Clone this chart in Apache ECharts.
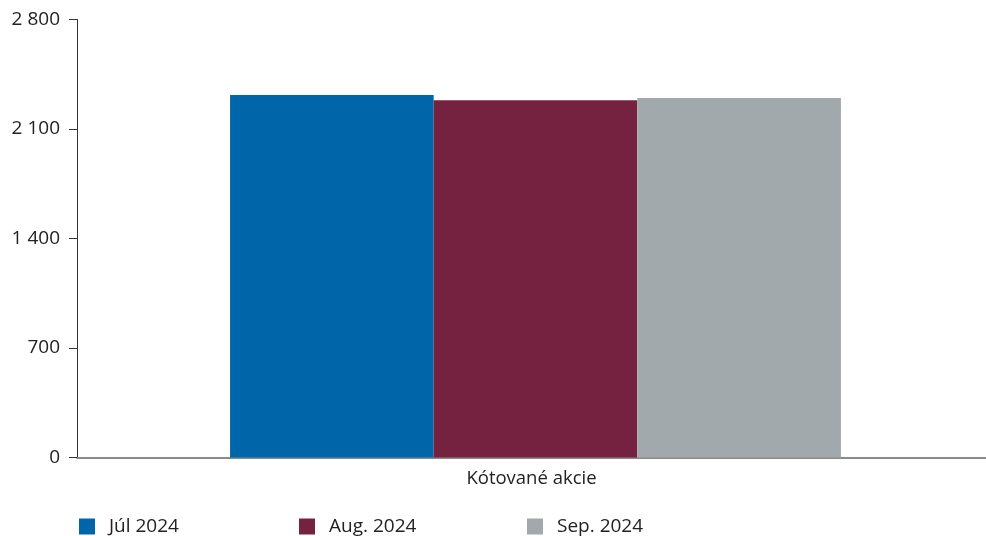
<!DOCTYPE html>
<html>
<head>
<meta charset="utf-8">
<script src="https://cdn.jsdelivr.net/npm/echarts@6/dist/echarts.min.js"></script>
<style>
  html, body { margin: 0; padding: 0; background: #fff; }
  #chart { width: 986px; height: 536px; }
</style>
</head>
<body>
<div id="chart"></div>
<script>
// data
const categories = ['Kótované akcie'];
const seriesNames = ['Júl 2024', 'Aug. 2024', 'Sep. 2024'];
const seriesValues = [[2317], [2284], [2298]];
const seriesColors = ['#0066aa', '#74223f', '#a2a9ac'];
const legendLeft = [79, 299, 527];

const chart = echarts.init(document.getElementById('chart'));
const font = '"Open Sans", sans-serif';

chart.setOption({
  animation: false,
  // grid 0 draws the visible axes, grid 1 holds the bars (slightly right of centre like the original)
  grid: [
    { left: 77, right: 0, top: 19.5, bottom: 78.5, containLabel: false },
    { left: 85, right: 0, top: 19.5, bottom: 78.5, containLabel: false }
  ],
  legend: seriesNames.map((name, i) => ({
    left: legendLeft[i],
    top: 517,
    padding: 0,
    itemWidth: 16,
    itemHeight: 16,
    icon: 'rect',
    textStyle: { fontFamily: font, fontSize: 19, color: '#222', padding: [0, 0, 0, 9] },
    data: [name]
  })),
  xAxis: [
    {
      gridIndex: 0,
      type: 'category',
      data: categories,
      axisLine: { lineStyle: { color: '#8a8a8a', width: 2 } },
      axisTick: { show: false },
      axisLabel: { fontFamily: font, fontSize: 18.5, color: '#222', margin: 12 }
    },
    { gridIndex: 1, type: 'category', data: categories, show: false }
  ],
  yAxis: [
    {
      gridIndex: 0,
      type: 'value',
      min: 0,
      max: 2800,
      interval: 700,
      splitLine: { show: false },
      axisLine: { show: true, lineStyle: { color: '#333', width: 1 } },
      axisTick: { show: true, length: 8, lineStyle: { color: '#333' } },
      axisLabel: {
        fontFamily: font, fontSize: 19, color: '#222', margin: 17,
        formatter: v => String(v).replace(/\B(?=(\d{3})+(?!\d))/g, ' ')
      }
    },
    { gridIndex: 1, type: 'value', min: 0, max: 2800, interval: 700, show: false, splitLine: { show: false } }
  ],
  series: seriesNames.map((name, i) => ({
    name: name,
    type: 'bar',
    xAxisIndex: 1,
    yAxisIndex: 1,
    data: seriesValues[i],
    barGap: 0,
    barCategoryGap: '32.2%',
    itemStyle: { color: seriesColors[i] }
  }))
});
</script>
</body>
</html>
